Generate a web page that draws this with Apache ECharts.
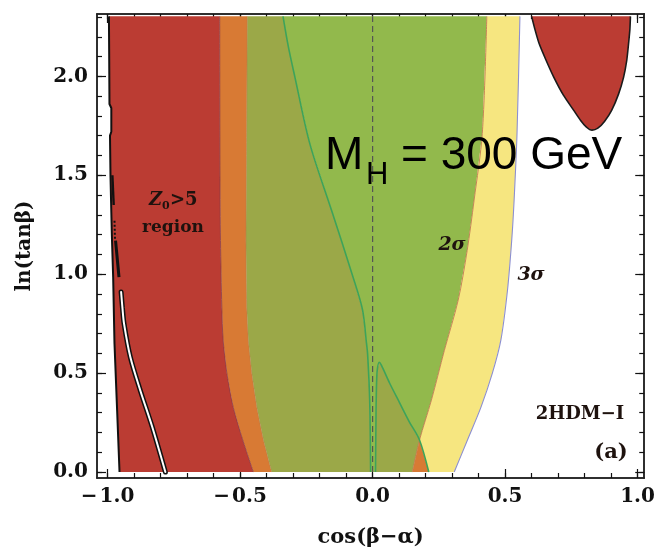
<!DOCTYPE html>
<html>
<head>
<meta charset="utf-8">
<script src="https://cdn.jsdelivr.net/npm/echarts@6/dist/echarts.min.js"></script>
<style>
  html, body { margin: 0; padding: 0; background: #fff; }
  #chart { width: 658px; height: 560px; }
</style>
</head>
<body>
<div id="chart"></div>
<script>
// Axis ranges and tick labels
const xRange = [-1.04, 1.025];
const yRange = [-0.03, 2.315];
const xTickLabels = [-1, -0.5, 0, 0.5, 1];
const yTickLabels = [0, 0.5, 1, 1.5, 2];

// Left boundary of the Z0>5 region (top to bottom)
const leftEdge = [[-0.995, 2.303], [-0.994, 2.1], [-0.993, 1.86], [-0.986, 1.84], [-0.986, 1.72], [-0.991, 1.70],
  [-0.989, 1.49], [-0.984, 1.2], [-0.979, 0.985], [-0.974, 0.65], [-0.964, 0.31], [-0.955, 0]];
// Red / orange boundary
const redEdge = [[-0.577, 2.303], [-0.576, 1.5], [-0.574, 1.17], [-0.569, 0.833], [-0.564, 0.667],
  [-0.55, 0.5], [-0.526, 0.328], [-0.49, 0.162], [-0.45, 0]];
// Orange / olive boundary
const orangeEdge = [[-0.473, 2.303], [-0.476, 1.6], [-0.478, 1.17], [-0.475, 0.833], [-0.469, 0.667],
  [-0.456, 0.5], [-0.437, 0.328], [-0.412, 0.162], [-0.381, 0]];
// Z0 = 5 contour inside the 2-sigma area
const z0Line = [[-0.338, 2.303], [-0.318, 2.15], [-0.293, 1.995], [-0.237, 1.66], [-0.155, 1.323],
  [-0.074, 0.986], [-0.038, 0.82], [-0.023, 0.65], [-0.019, 0.6], [-0.011, 0.364], [-0.0075, 0]];
const z0Bump = [[0.011, 0], [0.013, 0.3], [0.015, 0.45], [0.018, 0.52], [0.025, 0.555], [0.033, 0.54],
  [0.064, 0.45], [0.102, 0.35], [0.139, 0.253], [0.177, 0.162], [0.212, 0]];
// 2-sigma and 3-sigma boundaries
const sigma2Edge = [[0.431, 2.303], [0.414, 1.712], [0.383, 1.374], [0.357, 1.121], [0.323, 0.869],
  [0.271, 0.616], [0.222, 0.364], [0.177, 0.162], [0.15, 0]];
const sigma3Edge = [[0.556, 2.303], [0.545, 1.712], [0.534, 1.374], [0.525, 1.172], [0.509, 0.919],
  [0.484, 0.667], [0.452, 0.5], [0.409, 0.328], [0.358, 0.162], [0.308, 0]];
// Upper-right Z0>5 island (left side, bottom, right side)
const island = [[0.600, 2.303], [0.612, 2.24], [0.628, 2.167], [0.655, 2.08], [0.684, 1.995], [0.72, 1.905],
  [0.759, 1.828], [0.785, 1.777], [0.806, 1.745], [0.828, 1.728], [0.850, 1.738], [0.875, 1.772],
  [0.902, 1.828], [0.928, 1.91], [0.947, 1.995], [0.959, 2.08], [0.966, 2.167], [0.971, 2.24], [0.973, 2.303]];
// Thin contours inside the red region
const whiteCurve = [[-0.949, 0.91], [-0.944, 0.83], [-0.938, 0.75], [-0.914, 0.58], [-0.876, 0.41],
  [-0.832, 0.23], [-0.782, 0]];
const blackDash1 = [[-0.982, 1.50], [-0.977, 1.35]];
const blackDash2 = [[-0.974, 1.27], [-0.972, 1.17]];
const blackDash3 = [[-0.970, 1.17], [-0.957, 0.985]];
const zeroLine = [[0, 0], [0, 2.303]];

const colors = {
  red: '#bb3c33', orange: '#d87a34', olive: '#9ba848', green: '#92b94c',
  yellow: '#f6e680', contour: '#3da35a', frame: '#222'
};

function minorTicks(a, b) {
  const out = [];
  for (let i = Math.round(a * 10); i <= Math.round(b * 10); i++) out.push(i / 10);
  return out;
}
const xMinor = minorTicks(-1, 1);
const yMinor = minorTicks(0, 2.3);

const rev = a => a.slice().reverse();

const redPoly = leftEdge.concat(rev(redEdge));
const orangePoly = redEdge.concat(rev(orangeEdge));
const olivePoly = orangeEdge.concat(rev(z0Line));
const greenPoly = z0Line.concat(z0Bump.slice(0, 10)).concat(rev(sigma2Edge).slice(1));
const oliveBumpPoly = z0Bump.slice(0, 10).concat([sigma2Edge[sigma2Edge.length - 1]]);
const yellowPoly = sigma2Edge.concat(rev(sigma3Edge));
const orangeTri = [z0Bump[9], z0Bump[10], sigma2Edge[sigma2Edge.length - 1]];

function polygon(name, pts, fill) {
  return {
    type: 'custom', name, coordinateSystem: 'cartesian2d', xAxisIndex: 0, yAxisIndex: 0,
    silent: true, data: pts,
    renderItem: (params, api) => {
      if (params.dataIndex !== 0) return null;
      return {
        type: 'polygon',
        shape: { points: pts.map(p => api.coord(p)) },
        style: { fill }
      };
    }
  };
}

function curve(name, pts, color, width, extra) {
  return Object.assign({
    type: 'line', name, xAxisIndex: 0, yAxisIndex: 0, data: pts, showSymbol: false, symbol: 'none',
    silent: true, smooth: 0.3, lineStyle: { color, width }
  }, extra || {});
}

const serif = 'DejaVu Serif';
const lineStyle = { color: colors.frame, width: 1.5 };

function xAxis(pos, ticks, len, labels) {
  return {
    type: 'value', min: xRange[0], max: xRange[1], position: pos,
    axisLine: { show: true, onZero: false, lineStyle },
    axisTick: { show: true, inside: true, length: len, customValues: ticks, lineStyle: { color: '#111', width: 1.2 } },
    axisLabel: labels ? {
      customValues: xTickLabels, margin: 9, color: '#111',
      fontFamily: serif, fontWeight: 'bold', fontSize: 20,
      formatter: v => v.toFixed(1).replace('-', '\u2212\u200a')
    } : { show: false },
    splitLine: { show: false }
  };
}
function yAxis(pos, ticks, len, labels) {
  return {
    type: 'value', min: yRange[0], max: yRange[1], position: pos,
    axisLine: { show: true, onZero: false, lineStyle },
    axisTick: { show: true, inside: true, length: len, customValues: ticks, lineStyle: { color: '#111', width: 1.2 } },
    axisLabel: labels ? {
      customValues: yTickLabels, margin: 9, color: '#111',
      fontFamily: serif, fontWeight: 'bold', fontSize: 20,
      formatter: v => v.toFixed(1)
    } : { show: false },
    splitLine: { show: false }
  };
}

const xAxes = [xAxis('bottom', xMinor, 5, true), xAxis('bottom', xTickLabels, 9, false),
  xAxis('top', xMinor, 5, false), xAxis('top', xTickLabels, 9, false)];
const yAxes = [yAxis('left', yMinor, 5, true), yAxis('left', yTickLabels, 9, false),
  yAxis('right', yMinor, 5, false), yAxis('right', yTickLabels, 9, false)];

xAxes[0].name = 'cos(\u03b2\u2212\u03b1)';
xAxes[0].nameLocation = 'middle';
xAxes[0].nameGap = 49;
xAxes[0].nameTextStyle = { fontFamily: serif, fontWeight: 'bold', fontSize: 21, color: '#111' };
yAxes[0].name = 'ln(tan\u03b2)';
yAxes[0].nameLocation = 'middle';
yAxes[0].nameGap = 62;
yAxes[0].nameTextStyle = { fontFamily: serif, fontWeight: 'bold', fontSize: 20, color: '#111' };

const annotationFont = { fontFamily: serif, fontWeight: 'bold', fill: '#1e120e' };
function label(text, x, y, size, opts) {
  return {
    type: 'text', x, y, z: 100, silent: true,
    style: Object.assign({ text, fontSize: size, align: 'center', verticalAlign: 'middle' }, annotationFont, opts || {})
  };
}

const chart = echarts.init(document.getElementById('chart'), null, { renderer: 'canvas' });
chart.setOption({
  animation: false,
  backgroundColor: '#fff',
  grid: { left: 97, right: 13, top: 14, bottom: 82, containLabel: false },
  xAxis: xAxes,
  yAxis: yAxes,
  series: [
    polygon('Z0>5', redPoly, colors.red),
    polygon('overlap', orangePoly, colors.orange),
    polygon('2sigma Z0>5', olivePoly, colors.olive),
    polygon('2sigma', greenPoly, colors.green),
    polygon('2sigma Z0>5 bump', oliveBumpPoly, colors.olive),
    polygon('3sigma', yellowPoly, colors.yellow),
    polygon('3sigma Z0>5', orangeTri, colors.orange),
    polygon('Z0>5 island', island, colors.red),
    curve('island edge', island, '#1a1a1a', 1.6, { smooth: 0.2 }),
    curve('red edge', redEdge, '#8a3a45', 0.8),
    curve('orange edge', orangeEdge, '#b57a45', 0.6),
    curve('2sigma edge', sigma2Edge, '#c07a50', 0.9),
    curve('3sigma edge', sigma3Edge, '#8c8fd0', 1.1),
    curve('Z0 contour', z0Line, colors.contour, 1.6),
    curve('Z0 contour bump', z0Bump, colors.contour, 1.6),
    curve('left edge', leftEdge, '#111', 2, { smooth: 0 }),
    curve('dash 1', blackDash1, '#111', 2.4, { smooth: 0 }),
    curve('dash 2', blackDash2, '#111', 2, { smooth: 0, lineStyle: { color: '#111', width: 2, type: [2, 2] } }),
    curve('dash 3', blackDash3, '#111', 3, { smooth: 0 }),
    curve('white contour outline', whiteCurve, '#111', 5, { lineStyle: { color: '#111', width: 5, cap: 'round' } }),
    curve('white contour', whiteCurve, '#ffffff', 2, { lineStyle: { color: '#fff', width: 2, cap: 'round' } }),
    curve('cos = 0', zeroLine, '#555', 1.2, { smooth: 0, lineStyle: { color: '#555', width: 1.2, type: [6, 4] } })
  ],
  graphic: [
    label('Z', 149, 200, 18, { align: 'left', fontStyle: 'italic' }),
    label('0', 162, 206, 11, { align: 'left' }),
    label('>5', 170, 200, 18, { align: 'left' }),
    label('region', 173, 228, 17),
    label('2\u03c3', 452, 245, 19, { fontStyle: 'italic' }),
    label('3\u03c3', 531, 275, 19, { fontStyle: 'italic' }),
    label('2HDM\u2212I', 580, 414, 18),
    label('(a)', 611, 453, 21),
    { type: 'text', x: 325, y: 156, z: 110, silent: true,
      style: { text: 'M', fontFamily: 'Liberation Sans', fontSize: 46, fill: '#000', align: 'left', verticalAlign: 'middle' } },
    { type: 'text', x: 366, y: 175, z: 110, silent: true,
      style: { text: 'H', fontFamily: 'Liberation Sans', fontSize: 31, fill: '#000', align: 'left', verticalAlign: 'middle' } },
    { type: 'text', x: 401, y: 156, z: 110, silent: true,
      style: { text: '= 300 GeV', fontFamily: 'Liberation Sans', fontSize: 46, fill: '#000', align: 'left', verticalAlign: 'middle' } }
  ]
});
</script>
</body>
</html>
